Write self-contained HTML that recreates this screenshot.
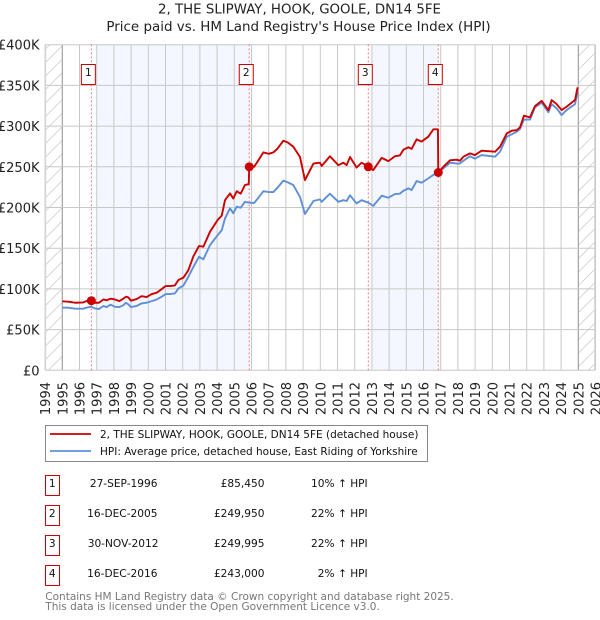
<!DOCTYPE html>
<html lang="en">
<head>
<meta charset="utf-8">
<title>2, THE SLIPWAY, HOOK, GOOLE, DN14 5FE</title>
<style>
html,body{margin:0;padding:0;background:#fff;width:600px;height:620px;overflow:hidden}
svg{display:block;font-family:"DejaVu Sans","Liberation Sans",sans-serif}
</style>
</head>
<body>
<svg id="chart" width="600" height="620" viewBox="0 0 600 620" xmlns="http://www.w3.org/2000/svg">
<defs>
<pattern id="hatch" patternUnits="userSpaceOnUse" width="13.5" height="13.5">
<path d="M-1 14.5L14.5 -1M-1 1L1 -1M12.5 14.5L14.5 12.5" stroke="#d0d0d0" stroke-width="0.8" fill="none"/>
</pattern>
</defs>
<text x="299.5" y="13.5" text-anchor="middle" font-size="13.35" fill="#222">2, THE SLIPWAY, HOOK, GOOLE, DN14 5FE</text>
<text x="298.5" y="31" text-anchor="middle" font-size="13.45" fill="#222">Price paid vs. HM Land Registry's House Price Index (HPI)</text>
<g id="plot"></g>
<g>
<rect x="45.5" y="425.5" width="382" height="36" fill="#fff" stroke="#888" stroke-width="1"/>
<line x1="50" x2="91" y1="434" y2="434" stroke="#cc0000" stroke-width="1.7"/>
<text x="100" y="438" font-size="10.5" fill="#111">2, THE SLIPWAY, HOOK, GOOLE, DN14 5FE (detached house)</text>
<line x1="50" x2="91" y1="451" y2="451" stroke="#5f8fd6" stroke-width="1.7"/>
<text x="100" y="455" font-size="10.5" fill="#111">HPI: Average price, detached house, East Riding of Yorkshire</text>
</g>
<g font-size="10.6" fill="#111">
<rect x="45.5" y="475.5" width="14" height="20" fill="#fff" stroke="#cc0000"/>
<text x="52.3" y="487" text-anchor="middle">1</text>
<text x="157.5" y="487" text-anchor="end">27-SEP-1996</text>
<text x="264.5" y="487" text-anchor="end">£85,450</text>
<text x="367.7" y="487" text-anchor="end">10% ↑ HPI</text>
<rect x="45.5" y="505.5" width="14" height="20" fill="#fff" stroke="#cc0000"/>
<text x="52.3" y="517" text-anchor="middle">2</text>
<text x="157.5" y="517" text-anchor="end">16-DEC-2005</text>
<text x="264.5" y="517" text-anchor="end">£249,950</text>
<text x="367.7" y="517" text-anchor="end">22% ↑ HPI</text>
<rect x="45.5" y="535.5" width="14" height="20" fill="#fff" stroke="#cc0000"/>
<text x="52.3" y="547" text-anchor="middle">3</text>
<text x="158.5" y="547" text-anchor="end">30-NOV-2012</text>
<text x="264.5" y="547" text-anchor="end">£249,995</text>
<text x="367.7" y="547" text-anchor="end">22% ↑ HPI</text>
<rect x="45.5" y="565.5" width="14" height="20" fill="#fff" stroke="#cc0000"/>
<text x="52.3" y="577" text-anchor="middle">4</text>
<text x="157.5" y="577" text-anchor="end">16-DEC-2016</text>
<text x="264.5" y="577" text-anchor="end">£243,000</text>
<text x="367.7" y="577" text-anchor="end">2% ↑ HPI</text>
</g>
<text x="45.3" y="600" font-size="10.5" fill="#777">Contains HM Land Registry data © Crown copyright and database right 2025.</text>
<text x="45.3" y="610" font-size="10.5" fill="#777">This data is licensed under the Open Government Licence v3.0.</text>
</svg>
<script>
const yearTicks = [1994,1995,1996,1997,1998,1999,2000,2001,2002,2003,2004,2005,2006,2007,2008,2009,2010,2011,2012,2013,2014,2015,2016,2017,2018,2019,2020,2021,2022,2023,2024,2025,2026];
const valueTicks = [0,50,100,150,200,250,300,350,400];
const valueTickLabels = ["£0","£50K","£100K","£150K","£200K","£250K","£300K","£350K","£400K"];
const dates = [1995,1995.35,1995.74,1996.22,1996.46,1996.69,1996.9,1997.13,1997.39,1997.58,1997.81,1998.06,1998.32,1998.55,1998.7,1998.84,1998.99,1999.32,1999.61,1999.9,2000.2,2000.49,2000.78,2001.01,2001.26,2001.55,2001.75,2002.04,2002.33,2002.62,2002.95,2003.2,2003.59,2004.03,2004.27,2004.46,2004.75,2004.94,2005.14,2005.37,2005.62,2005.84,2005.87,2006.15,2006.4,2006.69,2007,2007.27,2007.5,2007.85,2008.1,2008.43,2008.82,2009.11,2009.6,2009.98,2010.08,2010.56,2011.05,2011.34,2011.53,2011.73,2012.11,2012.4,2012.66,2012.79,2013.08,2013.57,2013.96,2014.34,2014.63,2014.83,2015.12,2015.31,2015.6,2015.89,2016.28,2016.57,2016.84,2016.86,2017.15,2017.54,2017.93,2018.12,2018.32,2018.7,2018.99,2019.38,2020.16,2020.45,2020.84,2021.13,2021.42,2021.61,2021.84,2022.19,2022.48,2022.87,2023.26,2023.45,2023.74,2024.03,2024.32,2024.81,2024.96];
const paidValues = [84.7,84.3,83,83.4,85.5,85.5,83,83,87,86,88,87,85,88,90.4,89.6,85.5,87.5,91,90,93.7,95.3,99.8,103.5,103.5,104.3,110.9,113.8,123,140,152.7,151.8,170.3,184.6,190,209,217.3,211,220,217,227.6,228.8,250,250,258,267.7,266,267.7,272,282,280,274.7,262,233.7,254,255,251,263,252,255,252,262,249,255,252,250,246,261,257,263,264,271,274,272,283.7,281,287,296,296,242.7,250,258,258.7,257.5,262.4,266.5,264.4,269.8,268.5,274.7,291,294.3,295,298.4,312.8,310.7,324.6,331,319.7,332,327,319.7,323.8,332,347.6];
const hpiValues = [76.9,76.9,75.7,75.7,77.3,78,76,75.3,79,77.7,80.6,78,77.7,80,83,81,77.7,79,82.2,83,85,87,90.4,93.7,93.7,94.5,100.6,104,115,127,139.6,136.3,153.9,166,172,186.6,199,193,201,199.7,207,206,206,205.5,212,220,219,219,224,233,231,227.6,213,192,208,210,207,217,207,209,208,215,205,209,207,206,202,214.5,212,216.5,217,220.6,223.5,221.4,232.5,230.4,235.8,240,242,242.7,248,255,254,254,257.5,263,260,264.4,262.4,268.5,287,290,293,296.4,308,308,323,328.7,317,327,321.8,313.6,319.7,327,342];
const saleLabels = ["1","2","3","4"];
const saleDates = [1996.69,2005.87,2012.79,2016.86];
const salePrices = [85.45,249.95,249.995,243];
const shadedStarts = [1997,2013];
const shadedEnds = [2005.87,2016.86];

const NS = "http://www.w3.org/2000/svg";
const plot = document.getElementById("plot");
const xScale = function (year) { return 45.1 + (year - 1994) * 17.2; };
const yScale = function (value) { return 370.3 - value * 0.814; };
const LEFT = 45.67, RIGHT = 594.7, TOP = 44.6, BOTTOM = 370.3;

function make(tag, attrs, text) {
  const el = document.createElementNS(NS, tag);
  Object.keys(attrs).forEach(function (k) { el.setAttribute(k, attrs[k]); });
  if (text !== undefined) el.textContent = text;
  plot.appendChild(el);
  return el;
}

shadedStarts.forEach(function (start, i) {
  const el = make("rect", {x: xScale(start), y: TOP, width: xScale(shadedEnds[i]) - xScale(start), height: BOTTOM - TOP, fill: "#f4f7ff"});
  
  
});

let el;
el = make("rect", {x: LEFT, y: TOP, width: xScale(1995) - LEFT, height: BOTTOM - TOP, fill: "url(#hatch)"});


el = make("rect", {x: xScale(2025), y: TOP, width: RIGHT - xScale(2025), height: BOTTOM - TOP, fill: "url(#hatch)"});



yearTicks.forEach(function (year) {
  const px = xScale(year);
  const isEdge = year === 1995 || year === 2025;
  const grid = make("line", {x1: px, x2: px, y1: TOP, y2: BOTTOM, stroke: isEdge ? "#999" : "#c8c8c8", "stroke-width": isEdge ? 1.1 : 1});
  
  
  const label = make("text", {x: 0, y: 0, "text-anchor": "end", "font-size": 13, fill: "#222", transform: "translate(" + (px + 5) + ",382) rotate(-90)"}, String(year));
  
  
});

valueTicks.forEach(function (value, i) {
  const py = yScale(value);
  const grid = make("line", {x1: LEFT, x2: RIGHT, y1: py, y2: py, stroke: "#c8c8c8", "stroke-width": 1});
  
  
  const label = make("text", {x: 39.5, y: py + 5, "text-anchor": "end", "font-size": 13, fill: "#222"}, valueTickLabels[i]);
  
  
});

el = make("rect", {x: LEFT, y: TOP, width: RIGHT - LEFT, height: BOTTOM - TOP, fill: "none", stroke: "#d4d4d4", "stroke-width": 1});



saleDates.forEach(function (date) {
  const px = xScale(date);
  const line = make("line", {x1: px, x2: px, y1: TOP, y2: BOTTOM, stroke: "#ff5c5c", "stroke-width": 1, "stroke-dasharray": "1.5 2.5"});
  
  
});

function pathFrom(values) {
  return values.map(function (v, i) {
    return (i ? "L" : "M") + xScale(dates[i]).toFixed(2) + " " + yScale(v).toFixed(2);
  }).join("");
}
el = make("path", {d: pathFrom(hpiValues), fill: "none", stroke: "#5f8fd6", "stroke-width": 1.9, "stroke-linejoin": "round"});


el = make("path", {d: pathFrom(paidValues), fill: "none", stroke: "#cc0000", "stroke-width": 1.9, "stroke-linejoin": "round"});



saleDates.forEach(function (date, i) {
  const dot = make("circle", {cx: xScale(date), cy: yScale(salePrices[i]), r: 4.5, fill: "#cc0000"});
  
  
  const box = make("rect", {x: xScale(date) - 10, y: 64.5, width: 14, height: 20, fill: "#fff", stroke: "#cc0000", "stroke-width": 1});
  
  
  const num = make("text", {x: xScale(date) - 3, y: 76, "text-anchor": "middle", "font-size": 10.6, fill: "#111"}, saleLabels[i]);
  
  
});
</script>
</body>
</html>
